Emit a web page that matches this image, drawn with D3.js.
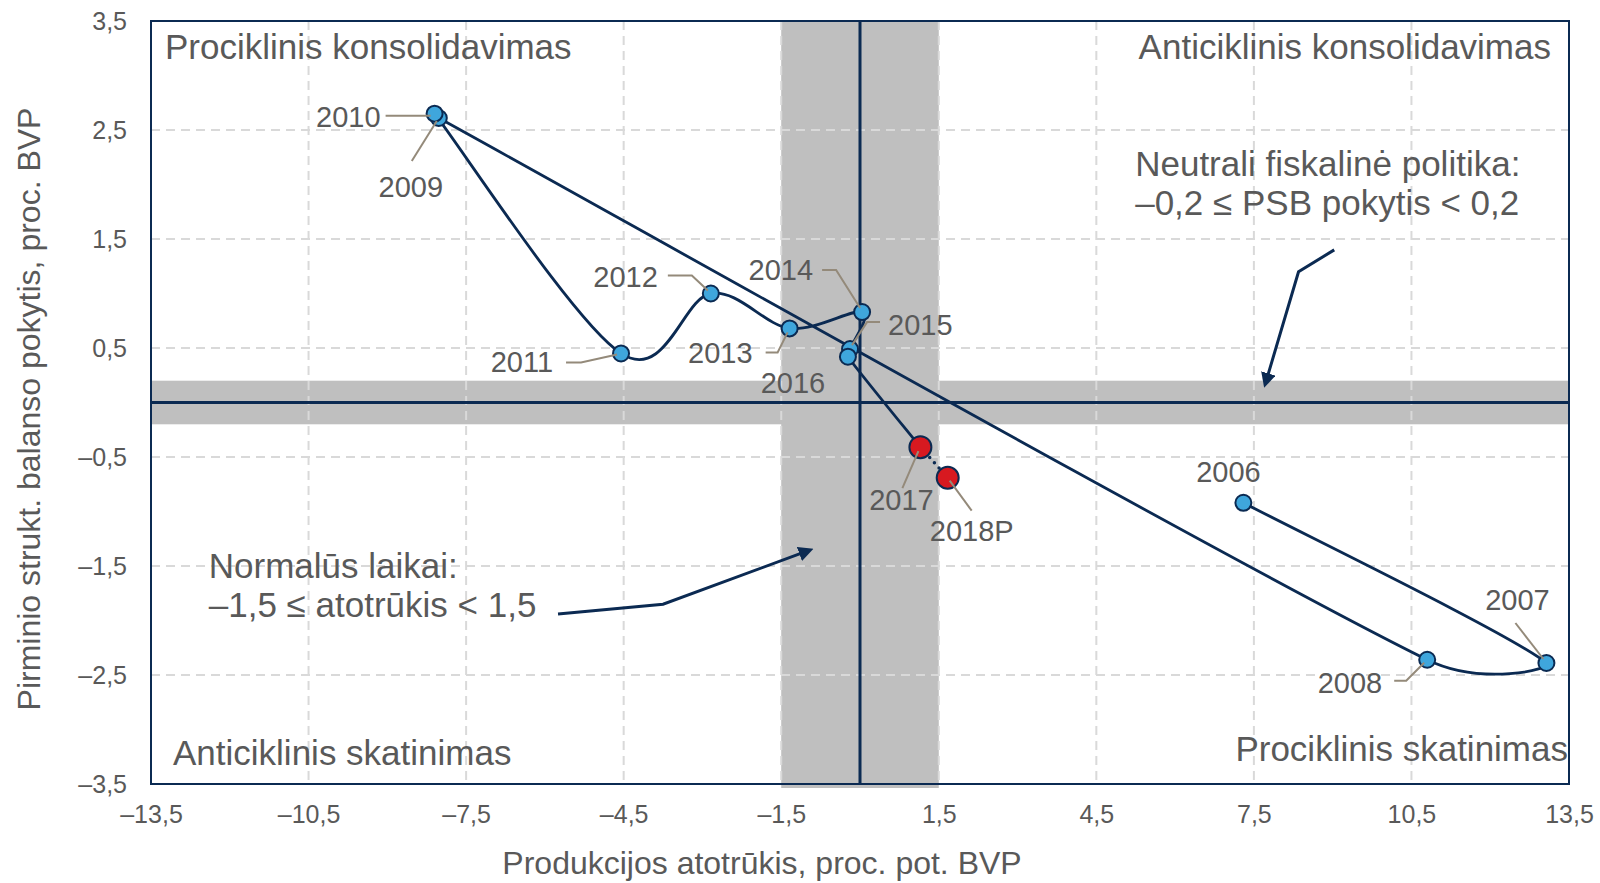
<!DOCTYPE html>
<html>
<head>
<meta charset="utf-8">
<script src="https://cdn.jsdelivr.net/npm/d3@7"></script>
<style>
  body { margin: 0; background: #fff; }
  svg text { font-family: "Liberation Sans", Arial, sans-serif; fill: #595959; }
</style>
</head>
<body>
<svg id="chart" width="1600" height="883"></svg>
<script>
// data
const years = ['2006', '2007', '2008', '2009', '2010', '2011', '2012', '2013', '2014', '2015', '2016', '2017', '2018P'];
const outputGap = [7.30, 13.07, 10.80, -8.02, -8.10, -4.55, -2.84, -1.34, 0.04, -0.19, -0.23, 1.15, 1.67];
const balanceChange = [-0.92, -2.39, -2.36, 2.61, 2.65, 0.45, 1.00, 0.68, 0.83, 0.49, 0.42, -0.41, -0.69];
const redYears = ['2017', '2018P'];
const forecastYears = ['2018P'];

const xTicks = [-13.5, -10.5, -7.5, -4.5, -1.5, 1.5, 4.5, 7.5, 10.5, 13.5];
const yTicks = [-3.5, -2.5, -1.5, -0.5, 0.5, 1.5, 2.5, 3.5];
const normalBand = [-1.5, 1.5];
const neutralBand = [-0.2, 0.2];

// label placement, pixel offsets from the point: [dx, dy, anchor, leader points]
const labelPos = {
  '2006': [-15, -21, 'middle', []],
  '2007': [-29, -53, 'middle', [[-31, -40], [-3, -4]]],
  '2008': [-45, 33, 'end', [[-33, 21], [-21, 21], [-3, 3]]],
  '2009': [-28, 79, 'middle', [[-27, 43], [-2, 3]]],
  '2010': [-54, 13, 'end', [[-49, 2], [-4, 2]]],
  '2011': [-68, 19, 'end', [[-55, 9], [-40, 9], [-4, 1]]],
  '2012': [-53, -7, 'end', [[-43, -18], [-19, -18], [-3, -3]]],
  '2013': [-37, 35, 'end', [[-24, 24], [-12, 24], [-2, 4]]],
  '2014': [-49, -32, 'end', [[-40, -42], [-26, -42], [-2, -4]]],
  '2015': [38, -14, 'start', [[30, -27], [17, -27], [2, -4]]],
  '2016': [-55, 36, 'middle', []],
  '2017': [-19, 63, 'middle', [[-18, 41], [-2, 4]]],
  '2018P': [24, 63, 'middle', [[24, 33], [2, 3]]]
};

const navy = '#0b2a52';
const fmt = d => (d < 0 ? '\u2013' : '') + Math.abs(d).toFixed(1).replace('.', ',');

const margin = {top: 21, right: 31, bottom: 99, left: 151};
const W = 1600, H = 883;
const w = W - margin.left - margin.right;
const h = H - margin.top - margin.bottom;

const svg = d3.select('#chart');
const g = svg.append('g').attr('transform', `translate(${margin.left},${margin.top})`);

const x = d3.scaleLinear().domain([-13.5, 13.5]).range([0, w]);
const y = d3.scaleLinear().domain([-3.5, 3.5]).range([h, 0]);

// spreadsheet style smoothing: catmull-rom handles, capped so short steps don't loop
function smoothCurve(context) {
  let pts = [];
  return {
    areaStart() {}, areaEnd() {},
    lineStart() { pts = []; },
    point(px, py) { pts.push([+px, +py]); },
    lineEnd() {
      const n = pts.length;
      if (!n) return;
      context.moveTo(pts[0][0], pts[0][1]);
      for (let i = 0; i < n - 1; i++) {
        const p0 = pts[Math.max(i - 1, 0)], p1 = pts[i], p2 = pts[i + 1], p3 = pts[Math.min(i + 2, n - 1)];
        const sx = p2[0] - p1[0], sy = p2[1] - p1[1];
        const seg = Math.hypot(sx, sy);
        let t1 = [(p2[0] - p0[0]) / 6, (p2[1] - p0[1]) / 6];
        let t2 = [(p3[0] - p1[0]) / 6, (p3[1] - p1[1]) / 6];
        [t1, t2] = [t1, t2].map(t => {
          const l = Math.hypot(t[0], t[1]);
          let k = l > seg * 0.5 ? seg * 0.5 / l : 1;
          // handle pointing backwards: keep it short
          if (t[0] * sx + t[1] * sy < 0) k *= 0.25;
          return [t[0] * k, t[1] * k];
        });
        context.bezierCurveTo(p1[0] + t1[0], p1[1] + t1[1], p2[0] - t2[0], p2[1] - t2[1], p2[0], p2[1]);
      }
    }
  };
}

svg.append('defs').append('marker')
  .attr('id', 'arrow')
  .attr('viewBox', '0 0 10 10')
  .attr('refX', 2).attr('refY', 5)
  .attr('markerWidth', 5).attr('markerHeight', 5)
  .attr('markerUnits', 'strokeWidth')
  .attr('orient', 'auto')
  .append('path')
  .attr('d', 'M0,0 L10,5 L0,10 z')
  .attr('fill', navy);

// grey bands
g.append('rect')
  .attr('x', x(normalBand[0])).attr('width', x(normalBand[1]) - x(normalBand[0]))
  .attr('y', 0).attr('height', h + 4)
  .attr('fill', '#bfbfbf');
g.append('rect')
  .attr('x', 0).attr('width', w)
  .attr('y', y(neutralBand[1])).attr('height', y(neutralBand[0]) - y(neutralBand[1]))
  .attr('fill', '#bfbfbf');

// dashed grid
g.append('g').selectAll('line')
  .data(xTicks.slice(1, -1))
  .enter().append('line')
  .attr('x1', d => x(d)).attr('x2', d => x(d))
  .attr('y1', 0).attr('y2', h)
  .attr('stroke', '#d9d9d9').attr('stroke-width', 2).attr('stroke-dasharray', '9,6');
g.append('g').selectAll('line')
  .data(yTicks.slice(1, -1))
  .enter().append('line')
  .attr('y1', d => y(d)).attr('y2', d => y(d))
  .attr('x1', 0).attr('x2', w)
  .attr('stroke', '#d9d9d9').attr('stroke-width', 2).attr('stroke-dasharray', '9,6');

// zero lines
g.append('line')
  .attr('x1', x(0)).attr('x2', x(0)).attr('y1', 0).attr('y2', h)
  .attr('stroke', navy).attr('stroke-width', 3);
g.append('line')
  .attr('x1', 0).attr('x2', w).attr('y1', y(0)).attr('y2', y(0))
  .attr('stroke', navy).attr('stroke-width', 3);

// frame
g.append('rect')
  .attr('width', w).attr('height', h)
  .attr('fill', 'none').attr('stroke', navy).attr('stroke-width', 2);

// axes
const xAxis = g.append('g')
  .attr('transform', `translate(0,${h})`)
  .call(d3.axisBottom(x).tickValues(xTicks).tickFormat(fmt).tickSize(0).tickPadding(21));
const yAxis = g.append('g')
  .call(d3.axisLeft(y).tickValues(yTicks).tickFormat(fmt).tickSize(0).tickPadding(24));
[xAxis, yAxis].forEach(a => {
  a.select('.domain').remove();
  a.selectAll('text').style('font-size', '25px').attr('fill', '#595959')
    .style('font-family', '"Liberation Sans", Arial, sans-serif');
});

svg.append('text')
  .attr('x', 762).attr('y', 874)
  .attr('text-anchor', 'middle')
  .style('font-size', '32px')
  .text('Produkcijos atotrūkis, proc. pot. BVP');
svg.append('text')
  .attr('transform', 'translate(40,409) rotate(-90)')
  .attr('text-anchor', 'middle')
  .style('font-size', '32px')
  .text('Pirminio strukt. balanso pokytis, proc. BVP');

// quadrant captions
const quad = [
  ['Prociklinis konsolidavimas', 14, 38, 'start'],
  ['Anticiklinis konsolidavimas', w - 18, 38, 'end'],
  ['Anticiklinis skatinimas', 22, h - 19, 'start'],
  ['Prociklinis skatinimas', w - 1, h - 23, 'end']
];
g.selectAll('.quad')
  .data(quad)
  .enter().append('text')
  .attr('class', 'quad')
  .attr('x', d => d[1]).attr('y', d => d[2])
  .attr('text-anchor', d => d[3])
  .style('font-size', '35px')
  .text(d => d[0]);

// annotations
const notes = [
  [['Neutrali fiskalinė politika:', '\u20130,2 \u2264 PSB pokytis < 0,2'], 5.24, 2.08],
  [['Normalūs laikai:', '\u20131,5 \u2264 atotrūkis < 1,5'], -12.40, -1.61]
];
notes.forEach(n => {
  const t = g.append('text')
    .attr('x', x(n[1])).attr('y', y(n[2]))
    .style('font-size', '35px');
  n[0].forEach((s, i) => t.append('tspan').attr('x', x(n[1])).attr('dy', i ? 39 : 0).text(s));
});

const arrows = [
  [[9.03, 1.40], [8.35, 1.20], [7.76, 0.24]],
  [[-5.75, -1.94], [-3.75, -1.85], [-1.10, -1.38]]
];
g.selectAll('.arrow')
  .data(arrows)
  .enter().append('path')
  .attr('class', 'arrow')
  .attr('d', d3.line().x(d => x(d[0])).y(d => y(d[1])))
  .attr('fill', 'none')
  .attr('stroke', navy).attr('stroke-width', 3)
  .attr('marker-end', 'url(#arrow)');

// series
const pts = years.map((yr, i) => ({year: yr, gx: outputGap[i], bc: balanceChange[i]}));
const solid = pts.filter(p => !forecastYears.includes(p.year));
const lastSolid = solid[solid.length - 1];
const dotted = [lastSolid].concat(pts.filter(p => forecastYears.includes(p.year)));

g.append('path')
  .attr('d', d3.line().x(d => x(d.gx)).y(d => y(d.bc)).curve(smoothCurve)(solid))
  .attr('fill', 'none').attr('stroke', navy).attr('stroke-width', 2.8);
g.append('path')
  .attr('d', d3.line().x(d => x(d.gx)).y(d => y(d.bc))(dotted))
  .attr('fill', 'none').attr('stroke', navy).attr('stroke-width', 3.5)
  .attr('stroke-linecap', 'round').attr('stroke-dasharray', '0,7');

// leader lines
const lab = g.append('g');
pts.forEach(p => {
  const L = labelPos[p.year];
  const px = x(p.gx), py = y(p.bc);
  if (L[3].length) {
    lab.append('path')
      .attr('d', d3.line()(L[3].map(o => [px + o[0], py + o[1]])))
      .attr('fill', 'none').attr('stroke', '#948a7a').attr('stroke-width', 2);
  }
});

g.selectAll('.pt')
  .data(pts)
  .enter().append('circle')
  .attr('class', 'pt')
  .attr('cx', d => x(d.gx)).attr('cy', d => y(d.bc))
  .attr('r', d => redYears.includes(d.year) ? 11 : 8)
  .attr('fill', d => redYears.includes(d.year) ? '#d71920' : '#3fa6dc')
  .attr('stroke', navy).attr('stroke-width', 2);

// leaders over the markers, like the original
lab.raise();

g.selectAll('.yr')
  .data(pts)
  .enter().append('text')
  .attr('class', 'yr')
  .attr('x', d => x(d.gx) + labelPos[d.year][0])
  .attr('y', d => y(d.bc) + labelPos[d.year][1])
  .attr('text-anchor', d => labelPos[d.year][2])
  .style('font-size', '29px')
  .text(d => d.year);
</script>
</body>
</html>
